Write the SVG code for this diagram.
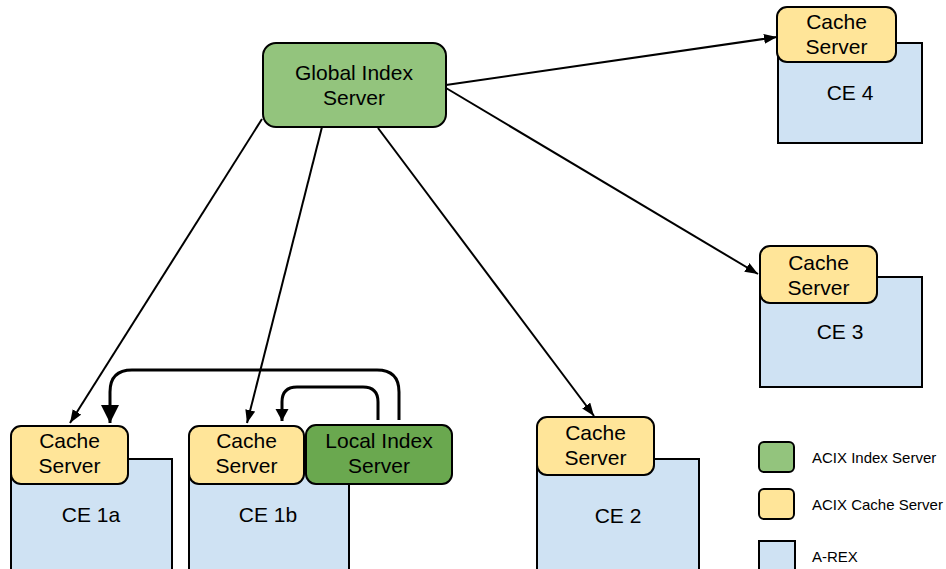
<svg xmlns="http://www.w3.org/2000/svg" width="946" height="569" viewBox="0 0 946 569">
<style>
.ce{fill:#cfe2f3;stroke:#000;stroke-width:2}
.cache{fill:#ffe599;stroke:#000;stroke-width:2}
.gidx{fill:#93c47d;stroke:#000;stroke-width:2}
.lidx{fill:#6aa84f;stroke:#000;stroke-width:2}
text{font-family:"Liberation Sans",Arial,sans-serif;fill:#000}
.t{font-size:21px;text-anchor:middle}
.lg{font-size:15px}
.ln{fill:none;stroke:#000;stroke-width:2}
.lp{fill:none;stroke:#000;stroke-width:3}
</style>
<defs>
<marker id="ah" markerUnits="userSpaceOnUse" markerWidth="14" markerHeight="12" refX="13" refY="5" orient="auto"><path d="M0,0 L13,5 L0,10 Z" fill="#000"/></marker>
<marker id="ahBig" markerUnits="userSpaceOnUse" markerWidth="20" markerHeight="20" refX="18" refY="9" orient="auto"><path d="M0,0 L18,9 L0,18 Z" fill="#000"/></marker>
<marker id="ahMid" markerUnits="userSpaceOnUse" markerWidth="14" markerHeight="14" refX="12" refY="6.5" orient="auto"><path d="M0,0 L12,6.5 L0,13 Z" fill="#000"/></marker>
</defs>
<g id="global-index">
<rect class="gidx" x="263" y="43" width="183" height="84" rx="13"/>
<text class="t" x="354" y="80">Global Index</text>
<text class="t" x="354" y="105">Server</text>
</g>
<g id="ce4">
<rect class="ce" x="778" y="43" width="144" height="100"/>
<rect class="cache" x="777" y="7" width="119" height="55" rx="10"/>
<text class="t" x="836.5" y="29">Cache</text>
<text class="t" x="836.5" y="54">Server</text>
<text class="t" x="850" y="100">CE 4</text>
</g>
<g id="ce3">
<rect class="ce" x="760" y="277" width="162" height="110"/>
<rect class="cache" x="760" y="246" width="117" height="57" rx="10"/>
<text class="t" x="818.5" y="270">Cache</text>
<text class="t" x="818.5" y="295">Server</text>
<text class="t" x="840" y="339">CE 3</text>
</g>
<g id="ce2">
<rect class="ce" x="537" y="459" width="162" height="120"/>
<rect class="cache" x="537" y="417" width="117" height="58" rx="10"/>
<text class="t" x="595.5" y="440">Cache</text>
<text class="t" x="595.5" y="465">Server</text>
<text class="t" x="618" y="523">CE 2</text>
</g>
<g id="ce1a">
<rect class="ce" x="11" y="459" width="161" height="120"/>
<rect class="cache" x="11" y="426" width="117" height="58" rx="10"/>
<text class="t" x="69.5" y="448">Cache</text>
<text class="t" x="69.5" y="473">Server</text>
<text class="t" x="91" y="522">CE 1a</text>
</g>
<g id="ce1b">
<rect class="ce" x="189" y="459" width="160" height="120"/>
<rect class="cache" x="189" y="426" width="115" height="58" rx="10"/>
<text class="t" x="246.5" y="448">Cache</text>
<text class="t" x="246.5" y="473">Server</text>
<text class="t" x="268" y="522">CE 1b</text>
</g>
<g id="local-index">
<rect class="lidx" x="306" y="425" width="146" height="59" rx="10"/>
<text class="t" x="379" y="448">Local Index</text>
<text class="t" x="379" y="473">Server</text>
</g>
<g id="connectors">
<line class="ln" x1="262" y1="119" x2="70" y2="423" marker-end="url(#ah)"/>
<line class="ln" x1="322" y1="127" x2="247" y2="423" marker-end="url(#ah)"/>
<line class="ln" x1="378" y1="128" x2="594" y2="416" marker-end="url(#ah)"/>
<line class="ln" x1="446" y1="88" x2="758" y2="274" marker-end="url(#ah)"/>
<line class="ln" x1="446" y1="85" x2="777" y2="37" marker-end="url(#ah)"/>
<path class="lp" d="M399,420 V392 Q399,370 377,370 H132 Q110,370 110,392 V423" marker-end="url(#ahBig)"/>
<path class="lp" d="M378,420 V402 Q378,387 363,387 H297 Q282,387 282,402 V421" marker-end="url(#ahMid)"/>
</g>
<g id="legend">
<rect class="gidx" x="759" y="442" width="35" height="30" rx="5"/>
<text class="lg" x="812" y="463">ACIX Index Server</text>
<rect class="cache" x="759" y="489" width="35" height="30" rx="5"/>
<text class="lg" x="812" y="510">ACIX Cache Server</text>
<rect class="ce" x="759" y="541" width="36" height="40"/>
<text class="lg" x="812" y="562">A-REX</text>
</g>
</svg>
